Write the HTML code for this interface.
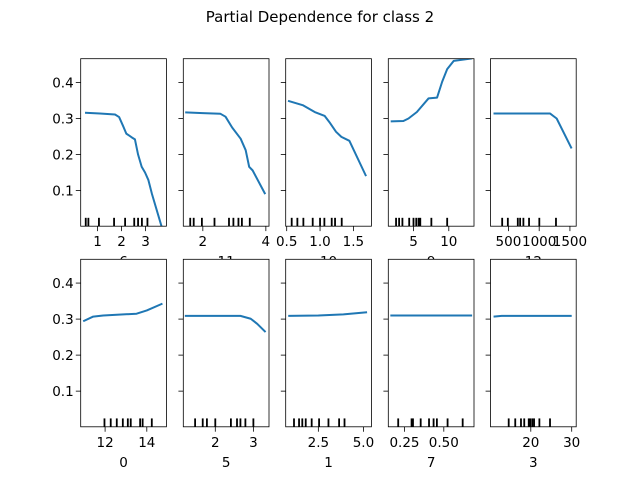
<!DOCTYPE html>
<html><head><meta charset="utf-8"><style>
html,body{margin:0;padding:0;background:#fff;}
svg{display:block;font-family:"DejaVu Sans","Liberation Sans",sans-serif;}
</style></head><body>
<svg id="fig" width="640" height="480" viewBox="0 0 640 480">
<rect width="640" height="480" fill="#fff"/>
<text x="320" y="22" text-anchor="middle" font-size="15" fill="#000">Partial Dependence for class 2</text>
</svg>
<script>
// ---- data (top-level arrays) ----
const featureNames = ["6","11","10","9","12","0","5","1","7","3"];
const yTicks = [0.1,0.2,0.3,0.4];
const yLim = [0.001,0.466];
const xLims = [[0.3,3.87],[1.38,4.1],[0.485,1.77],[1.43,13.57],[208,1602],[10.83,14.94],[1.16,3.41],[0.69,5.44],[0.147,0.692],[10.15,31.1]];
const xTickVals = [[1,2,3],[2,4],[0.5,1.0,1.5],[5,10],[500,1000,1500],[12,14],[2,3],[2.5,5.0],[0.25,0.5],[20,30]];
const xTickLabels = [["1","2","3"],["2","4"],["0.5","1.0","1.5"],["5","10"],["500","1000","1500"],["12","14"],["2","3"],["2.5","5.0"],["0.25","0.50"],["20","30"]];
const curveX = [
 [0.48,1.1,1.73,1.9,2.06,2.2,2.44,2.56,2.69,2.84,2.98,3.12,3.27,3.67],
 [1.44,2.0,2.56,2.72,2.93,3.2,3.36,3.47,3.58,3.98],
 [0.52,0.74,0.92,1.07,1.14,1.24,1.32,1.44,1.69],
 [1.77,3.57,4.29,5.48,7.14,8.34,9.06,9.77,10.7,13.3],
 [257,700,1175,1284,1527],
 [10.95,11.43,11.91,13.51,14.0,14.75],
 [1.2,2.0,2.66,2.93,3.1,3.32],
 [0.83,2.5,3.89,5.2],
 [0.16,0.68],
 [10.9,12.9,30]
];
const curveY = [
 [0.316,0.314,0.311,0.304,0.28,0.258,0.247,0.242,0.2,0.166,0.15,0.129,0.09,0.0],
 [0.317,0.315,0.313,0.305,0.275,0.244,0.212,0.166,0.156,0.09],
 [0.349,0.337,0.318,0.307,0.29,0.263,0.249,0.238,0.14],
 [0.292,0.293,0.3,0.318,0.356,0.358,0.402,0.437,0.46,0.467],
 [0.314,0.314,0.314,0.3,0.217],
 [0.294,0.307,0.31,0.315,0.324,0.343],
 [0.309,0.309,0.309,0.301,0.287,0.264],
 [0.309,0.31,0.313,0.319],
 [0.31,0.31],
 [0.307,0.309,0.309]
];
const deciles = [
 [0.51,0.62,1.06,1.69,2.15,2.53,2.69,2.85,3.08],
 [1.6,1.71,1.97,2.37,2.83,2.97,3.13,3.24,3.49],
 [0.575,0.66,0.75,0.89,1.0,1.065,1.175,1.225,1.325],
 [2.53,2.96,3.43,4.39,5,5.39,5.72,5.96,7.53,9.77],
 [398,490,652,690,743,835,1002,1273],
 [11.97,12.27,12.56,12.85,13.09,13.23,13.68,13.8,14.24],
 [1.47,1.67,1.78,2,2.41,2.57,2.66,2.79,3],
 [1.15,1.43,1.61,1.8,2.13,2.54,3.06,3.65,3.95],
 [0.21,0.295,0.304,0.353,0.406,0.435,0.456,0.524,0.62],
 [14.6,16.2,17.6,18.4,19.5,19.9,20.4,20.8,22.1,24.7]
];
// ---- layout ----
const NS="http://www.w3.org/2000/svg";
const svg=document.getElementById('fig');
const colX=[80.7,183.3,285.7,388.3,490.5];
const axW=85.7;
const rowTop=[58.7,259.3], axH=167.5;
function mk(tag,attrs,parent){const e=document.createElementNS(NS,tag);for(const k in attrs)e.setAttribute(k,attrs[k]);(parent||svg).appendChild(e);return e;}
for(let i=0;i<10;i++){
  const r=Math.floor(i/5), c=i%5;
  const L=colX[c], T=rowTop[r], B=T+axH;
  const xs=v=>L+(v-xLims[i][0])/(xLims[i][1]-xLims[i][0])*axW;
  const ys=v=>B-(v-yLim[0])/(yLim[1]-yLim[0])*axH;
  const g=mk('g',{});
  
  
  const bg=mk('rect',{x:L,y:T,width:axW,height:axH,fill:'#fff'},g);
  
  
  deciles[i].forEach(d=>{
    const t=mk('line',{x1:xs(d),x2:xs(d),y1:B,y2:B-0.05*axH,stroke:'#000','stroke-width':1.8},g);
    
    
  });
  const pts=curveX[i].map((x,j)=>xs(x).toFixed(2)+','+ys(curveY[i][j]).toFixed(2)).join(' ');
  const cp=mk('clipPath',{id:'cp'+i},g);mk('rect',{x:L,y:T,width:axW,height:axH},cp);
  const pl=mk('polyline',{points:pts,fill:'none',stroke:'#1f77b4','stroke-width':2,'stroke-linejoin':'round','clip-path':'url(#cp'+i+')'},g);
  
  
  yTicks.forEach(v=>{
    mk('line',{x1:L,x2:L-4.9,y1:ys(v),y2:ys(v),stroke:'#000','stroke-width':0.8},g);
    if(c===0){
      const t=mk('text',{x:L-7,y:ys(v)+5,'text-anchor':'end','font-size':13.5,fill:'#000'},g);
      t.textContent=v.toFixed(1);
      
      
    }
  });
  xTickVals[i].forEach((v,j)=>{
    mk('line',{x1:xs(v),x2:xs(v),y1:B,y2:B+4.9,stroke:'#000','stroke-width':0.8},g);
    const t=mk('text',{x:xs(v),y:B+20,'text-anchor':'middle','font-size':13.5,fill:'#000'},g);
    t.textContent=xTickLabels[i][j];
    
    
  });
  const xl=mk('text',{x:L+axW/2,y:B+40,'text-anchor':'middle','font-size':13.5,fill:'#000'},g);
  xl.textContent=featureNames[i];
  
  
  mk('rect',{x:L,y:T,width:axW,height:axH,fill:'none',stroke:'#000','stroke-width':0.8},g);
}
</script>
</body></html>
